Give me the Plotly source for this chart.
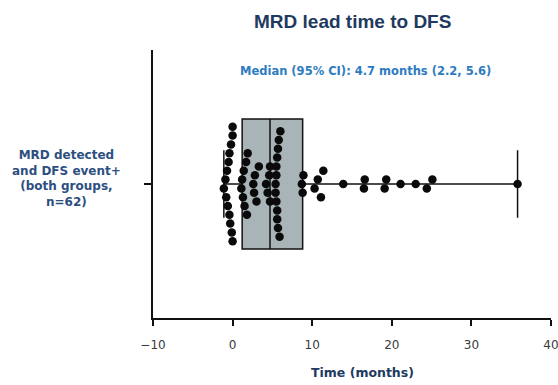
import numpy as np
import plotly.graph_objects as go

# Lead time (months) from MRD detection to DFS event, one value per patient (n=62)
lead_time_months = [
    -1.1, -0.9, -0.8, -0.7, -0.6, -0.5, -0.4, -0.4, -0.3, -0.2, -0.1, 0.0, 0.0, 0.0,
    1.1, 1.2, 1.3, 1.4, 1.5, 1.7, 1.8, 1.9,
    2.6, 2.7, 2.8, 3.0, 3.3,
    4.2, 4.4, 4.6, 4.7, 4.7,
    5.4, 5.4, 5.5, 5.5, 5.5, 5.6, 5.6, 5.6, 5.7, 5.7, 5.8, 5.9, 6.0,
    8.7, 8.8, 8.9,
    10.3, 10.7, 11.1, 11.4,
    13.9, 16.5, 16.6, 19.1, 19.3, 21.1, 23.0, 24.4, 25.1, 35.8,
]
group_label = "MRD detected<br>and DFS event+<br>(both groups,<br>n=62)"
x_ticks = [-10, 0, 10, 20, 30, 40]
title_text = "MRD lead time to DFS"
median_text = "Median (95% CI): 4.7 months (2.2, 5.6)"
x_title = "Time (months)"

# Layout geometry (pixels)
W, H = 558, 385
M_L, M_R, M_T, M_B = 153, 7, 50, 67
X_RANGE = [-10, 40]
Y_RANGE = [-1, 1]
plot_w = W - M_L - M_R
plot_h = H - M_T - M_B
px_per_x = plot_w / (X_RANGE[1] - X_RANGE[0])
px_per_y = plot_h / (Y_RANGE[1] - Y_RANGE[0])

DOT = 8.5       # marker diameter, px
STACK = 8.8     # vertical spacing between stacked dots, px
BIN = 9.0       # dots closer than this (px, horizontally) share a column


def column_offsets(values):
    """Group nearby values into columns and stack each column vertically
    around the centre line (column scatter layout)."""
    vals = np.asarray(values, dtype=float)
    order = np.argsort(vals, kind="stable")
    offsets = np.zeros(len(vals))
    groups, current, start = [], [], None
    for i in order:
        xpx = vals[i] * px_per_x
        if current and xpx - start >= BIN:
            groups.append(current)
            current = []
        if not current:
            start = xpx
        current.append(i)
    if current:
        groups.append(current)
    for g in groups:
        n = len(g)
        slots = sorted(((k - (n - 1) / 2) * STACK for k in range(n)),
                       key=lambda s: (abs(s), s))
        for idx, s in zip(g, slots):
            offsets[idx] = s / px_per_y
    return offsets


y_offsets = column_offsets(lead_time_months)

fig = go.Figure()

fig.add_trace(go.Box(
    x=lead_time_months,
    y0=0,
    orientation="h",
    boxpoints=False,
    width=0.97,
    whiskerwidth=0.52,
    fillcolor="#a8b4b7",
    line=dict(color="#111111", width=1.5),
    hoverinfo="skip",
    showlegend=False,
))

fig.add_trace(go.Scatter(
    x=lead_time_months,
    y=y_offsets,
    mode="markers",
    marker=dict(size=DOT, color="#0a0a0a", line=dict(width=0)),
    showlegend=False,
    hoverinfo="x",
))

navy = "#1f3a5f"
small_font = "DejaVu Sans, Verdana, sans-serif"
fig.update_layout(
    width=W, height=H,
    margin=dict(l=M_L, r=M_R, t=M_T, b=M_B, autoexpand=False),
    paper_bgcolor="white",
    plot_bgcolor="white",
    font=dict(family="Liberation Sans, Arial, sans-serif", color="#333333"),
    xaxis=dict(
        range=X_RANGE,
        automargin=False,
        tickvals=x_ticks,
        ticktext=[("\u221210" if t < 0 else str(t)) for t in x_ticks],
        showline=True, linecolor="#111111", linewidth=1.5,
        ticks="outside", ticklen=6, tickwidth=1.5, tickcolor="#111111",
        ticklabelstandoff=9, ticklabeloverflow="allow",
        tickfont=dict(family=small_font, size=12, color="#3a3a3a"),
        showgrid=False, zeroline=False,
    ),
    yaxis=dict(
        range=Y_RANGE,
        automargin=False,
        tickvals=[0], ticktext=[""],
        showline=True, linecolor="#111111", linewidth=1.5,
        ticks="outside", ticklen=7, tickwidth=1.5, tickcolor="#111111",
        showgrid=False, zeroline=False,
    ),
    annotations=[
        dict(text="<b>" + title_text + "</b>", xref="paper", yref="paper",
             x=0.5, y=1 + (M_T - 21) / plot_h, xanchor="center", yanchor="middle",
             showarrow=False, font=dict(size=19, color=navy)),
        dict(text="<b>" + median_text + "</b>", xref="x", yref="paper",
             x=16.7, y=1 - (71 - M_T) / plot_h, xanchor="center", yanchor="middle",
             showarrow=False, font=dict(family=small_font, size=11.5, color="#2e7cc0")),
        dict(text="<b>" + group_label + "</b>", xref="paper", yref="y",
             x=(66 - M_L) / plot_w, y=0, yshift=6, xanchor="center", yanchor="middle",
             align="center", showarrow=False,
             font=dict(family=small_font, size=12, color="#2d4f80")),
        dict(text="<b>" + x_title + "</b>", xref="paper", yref="paper",
             x=(362 - M_L) / plot_w, y=-(372 - (H - M_B)) / plot_h,
             xanchor="center", yanchor="middle",
             showarrow=False, font=dict(family=small_font, size=12.5, color=navy)),
    ],
)

fig.write_html("out.html")
